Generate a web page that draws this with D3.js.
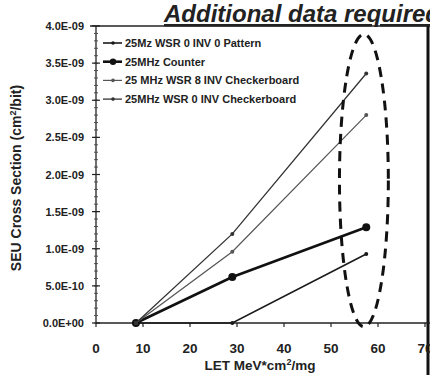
<!DOCTYPE html>
<html>
<head>
<meta charset="utf-8">
<script src="https://cdn.jsdelivr.net/npm/d3@7"></script>
<style>
  body { margin: 0; background: #fff; }
  svg { display: block; font-family: "Liberation Sans", Arial, sans-serif; }
</style>
</head>
<body>
<script>
// SEU cross section vs LET
var letValues = [8.5, 29, 57.5];
var seriesNames = [
  "25Mz WSR 0 INV 0 Pattern",
  "25MHz Counter",
  "25 MHz WSR 8 INV Checkerboard",
  "25MHz WSR 0 INV Checkerboard"
];
var pattern0 = [0, 0, 9.3e-10];
var counter = [0, 6.2e-10, 1.29e-9];
var wsr8Checker = [0, 1.2e-9, 3.36e-9];
var wsr0Checker = [0, 0.96e-9, 2.8e-9];
var xTicks = [0, 10, 20, 30, 40, 50, 60, 70];
var yTicks = [0, 5e-10, 1e-9, 1.5e-9, 2e-9, 2.5e-9, 3e-9, 3.5e-9, 4e-9];
// dashed ring around the high-LET points: [centre LET, centre y, half width LET, half height]
var highlight = [57, 1.92e-9, 5.2, 1.97e-9];

var width = 430, height = 375;
var svg = d3.select(document.body).append("svg")
    .attr("width", width)
    .attr("height", height);

var x = d3.scaleLinear().domain([0, 70]).range([96, 425]);
var y = d3.scaleLinear().domain([0, 4e-9]).range([323, 26]);

function expFmt(v) {
  if (v === 0) return "0.0E+00";
  var s = d3.format(".1e")(v).split("e");
  var e = +s[1];
  return s[0] + "E" + (e < 0 ? "-" : "+") + d3.format("02")(Math.abs(e));
}

// frame lines (top + right edge)
svg.append("line").attr("x1", 90).attr("x2", 430).attr("y1", 26).attr("y2", 26)
    .attr("stroke", "#222").attr("stroke-width", 1.3);
svg.append("line").attr("x1", 428).attr("x2", 428).attr("y1", 26).attr("y2", height)
    .attr("stroke", "#111").attr("stroke-width", 3);

// y axis
svg.append("line").attr("x1", x(0)).attr("x2", x(0)).attr("y1", y(4e-9)).attr("y2", y(0))
    .attr("stroke", "#222").attr("stroke-width", 1.3);
var minor = d3.range(0, 41).map(function (i) { return i * 1e-10; });
svg.append("g").selectAll("line").data(minor).join("line")
    .attr("x1", x(0) - 2).attr("x2", x(0) + 2)
    .attr("y1", function (d) { return y(d); }).attr("y2", function (d) { return y(d); })
    .attr("stroke", "#444").attr("stroke-width", 0.9);
svg.append("g").selectAll("line").data(yTicks).join("line")
    .attr("x1", x(0) - 4).attr("x2", x(0) + 4)
    .attr("y1", function (d) { return y(d); }).attr("y2", function (d) { return y(d); })
    .attr("stroke", "#222").attr("stroke-width", 1.2);
svg.append("g").selectAll("text").data(yTicks).join("text")
    .attr("x", 84).attr("y", function (d) { return y(d) + 4; })
    .attr("text-anchor", "end")
    .attr("font-size", 11).attr("font-weight", "bold").attr("fill", "#222")
    .text(expFmt);

// x axis
svg.append("line").attr("x1", x(0)).attr("x2", 430).attr("y1", y(0)).attr("y2", y(0))
    .attr("stroke", "#222").attr("stroke-width", 1.5);
svg.append("g").selectAll("line").data(xTicks).join("line")
    .attr("x1", function (d) { return x(d); }).attr("x2", function (d) { return x(d); })
    .attr("y1", y(0)).attr("y2", y(0) + 4)
    .attr("stroke", "#222").attr("stroke-width", 1.2);
svg.append("g").selectAll("text").data(xTicks).join("text")
    .attr("x", function (d) { return x(d); }).attr("y", 353)
    .attr("text-anchor", "middle")
    .attr("font-size", 13.5).attr("font-weight", "bold").attr("fill", "#222")
    .text(function (d) { return d; });

// axis titles
var xl = svg.append("text").attr("x", 260).attr("y", 370)
    .attr("text-anchor", "middle").attr("font-size", 13.5).attr("font-weight", "bold").attr("fill", "#222");
xl.append("tspan").text("LET MeV*cm");
xl.append("tspan").attr("dy", -5).attr("font-size", 9).text("2");
xl.append("tspan").attr("dy", 5).text("/mg");

var yl = svg.append("text").attr("transform", "translate(21,178) rotate(-90)")
    .attr("text-anchor", "middle").attr("font-size", 14).attr("font-weight", "bold").attr("fill", "#222");
yl.append("tspan").text("SEU Cross Section (cm");
yl.append("tspan").attr("dy", -5).attr("font-size", 9).text("2");
yl.append("tspan").attr("dy", 5).text("/bit)");

// series
var series = [
  { name: seriesNames[0], values: pattern0, color: "#1a1a1a", width: 1.6, marker: "tick" },
  { name: seriesNames[1], values: counter, color: "#111", width: 2.6, marker: "dot" },
  { name: seriesNames[2], values: wsr0Checker, color: "#555", width: 1.2, marker: "small" },
  { name: seriesNames[3], values: wsr8Checker, color: "#333", width: 1.3, marker: "tick" }
];

var line = d3.line()
    .x(function (d) { return x(d[0]); })
    .y(function (d) { return y(d[1]); });

var gs = svg.append("g").selectAll("g").data(series).join("g");
gs.append("path")
    .attr("d", function (s) { return line(d3.zip(letValues, s.values)); })
    .attr("fill", "none")
    .attr("stroke", function (s) { return s.color; })
    .attr("stroke-width", function (s) { return s.width; });
gs.selectAll("circle")
    .data(function (s) {
      return d3.zip(letValues, s.values).map(function (p) { return { p: p, s: s }; });
    })
    .join("circle")
    .attr("cx", function (d) { return x(d.p[0]); })
    .attr("cy", function (d) { return y(d.p[1]); })
    .attr("r", function (d) { return d.s.marker === "dot" ? 4 : 2; })
    .attr("fill", function (d) { return d.s.color; });

// legend
var leg = svg.append("g").selectAll("g").data(series).join("g")
    .attr("transform", function (d, i) { return "translate(0," + (43 + i * 18.7) + ")"; });
leg.append("line").attr("x1", 103).attr("x2", 122).attr("y1", 0).attr("y2", 0)
    .attr("stroke", function (d) { return d.color; })
    .attr("stroke-width", function (d) { return d.width; });
leg.append("circle").attr("cx", 113).attr("cy", 0)
    .attr("r", function (d) { return d.marker === "dot" ? 3.2 : 1.8; })
    .attr("fill", function (d) { return d.color; });
leg.append("text").attr("x", 125).attr("y", 3.8)
    .attr("font-size", 11).attr("font-weight", "bold").attr("fill", "#222")
    .text(function (d) { return d.name; });

// dashed highlight ring
svg.append("ellipse")
    .attr("cx", x(highlight[0])).attr("cy", y(highlight[1]))
    .attr("rx", x(highlight[0] + highlight[2]) - x(highlight[0]))
    .attr("ry", y(0) - y(highlight[3]))
    .attr("fill", "none").attr("stroke", "#111").attr("stroke-width", 3)
    .attr("stroke-dasharray", "10,7");

// title
svg.append("text").attr("x", 164).attr("y", 22)
    .attr("font-size", 24).attr("font-weight", "bold").attr("font-style", "italic")
    .attr("text-decoration", "underline").attr("fill", "#222")
    .text("Additional data required");
</script>
</body>
</html>
